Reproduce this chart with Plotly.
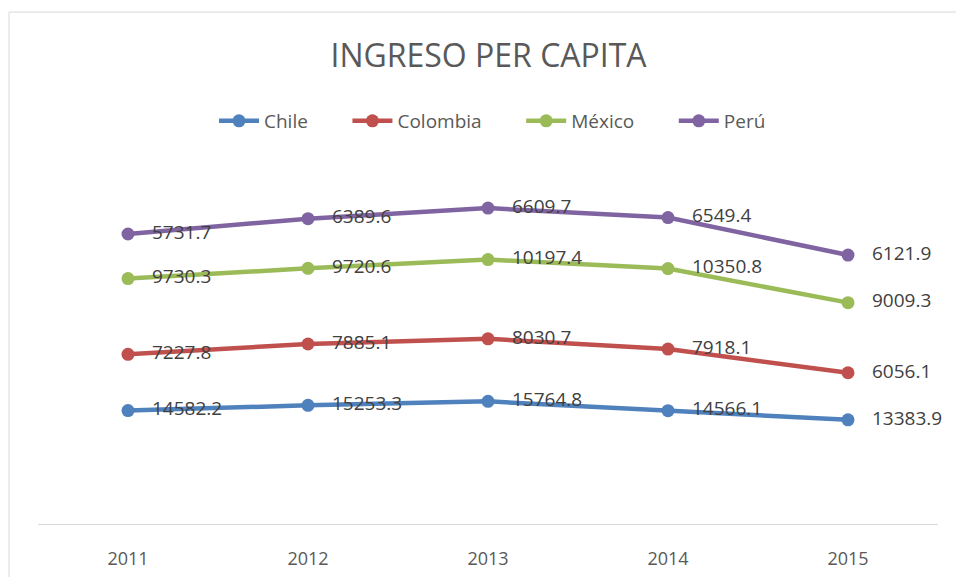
import plotly.graph_objects as go

years = ["2011", "2012", "2013", "2014", "2015"]
chile = [14582.2, 15253.3, 15764.8, 14566.1, 13383.9]
colombia = [7227.8, 7885.1, 8030.7, 7918.1, 6056.1]
mexico = [9730.3, 9720.6, 10197.4, 10350.8, 9009.3]
peru = [5731.7, 6389.6, 6609.7, 6549.4, 6121.9]

series = [
    ("Chile", chile, "#4f81bd"),
    ("Colombia", colombia, "#c0504d"),
    ("México", mexico, "#9bbb59"),
    ("Perú", peru, "#8064a2"),
]

FONT = "Open Sans"
PAD = "\u00a0" * 3  # push the data labels a little further right, like Excel
fig = go.Figure()
for i, (name, vals, color) in enumerate(series):
    gap = "\u00a0" * 7 if i < len(series) - 1 else ""
    fig.add_trace(go.Scatter(
        x=years, y=vals, name=name + gap, stackgroup="one", fill="none",
        mode="lines+markers+text",
        line=dict(color=color, width=4.5),
        marker=dict(color=color, size=13),
        text=[PAD + f"{v:.1f}" for v in vals],
        textposition="middle right",
        textfont=dict(family=FONT, size=19, color="#404040"),
        cliponaxis=False,
    ))

# chart area border (right and bottom edges fall outside the picture)
fig.add_shape(type="rect", xref="paper", yref="paper",
              x0=-0.0322, x1=1.2, y0=-0.5, y1=1.316,
              line=dict(color="#d9d9d9", width=1), layer="below")

fig.update_xaxes(showline=True, linecolor="#d9d9d9", linewidth=1, showgrid=False,
                 ticks="", ticklabelstandoff=18, automargin=False,
                 tickfont=dict(family=FONT, size=18, color="#595959"),
                 range=[-0.5, 4.5])
fig.update_yaxes(range=[0, 50000], visible=False, showgrid=False, automargin=False)

fig.update_layout(
    width=956, height=577,
    paper_bgcolor="white", plot_bgcolor="white",
    margin=dict(l=38, r=18, t=135, b=53),
    title=dict(text="INGRESO PER CAPITA", x=0.511, xanchor="center",
               y=1 - 56 / 577, yanchor="middle",
               font=dict(family=FONT, size=32, color="#595959")),
    legend=dict(orientation="h", x=0.505, xanchor="center", y=1.036, yanchor="middle",
                font=dict(family=FONT, size=19, color="#595959"), traceorder="normal",
                itemwidth=40),
    showlegend=True,
)

fig.write_html("out.html", config={"displayModeBar": False},
               post_script="document.body.style.margin='0';")
